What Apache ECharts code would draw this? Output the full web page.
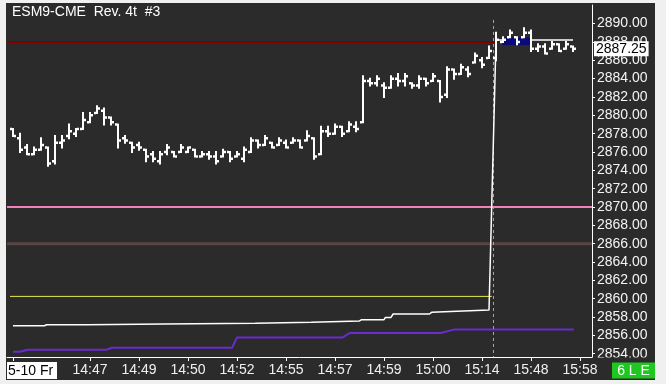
<!DOCTYPE html>
<html><head><meta charset="utf-8">
<script src="https://cdn.jsdelivr.net/npm/echarts@6/dist/echarts.min.js"></script>
<style>
html,body{margin:0;padding:0;background:#f0f0f0;width:666px;height:384px;overflow:hidden}
#bg{position:absolute;left:6px;top:3px;width:649px;height:377px;background:#2b2b2b}
#c{position:absolute;left:0;top:0;width:666px;height:384px}
</style></head>
<body><div id="bg"></div><div id="c"></div>
<script>
// ---- data ----
const title = 'ESM9-CME  Rev. 4t  #3';
const xTickIdx = [0, 11, 18, 25, 32, 39, 46, 53, 60, 67, 74, 81];
const xTickLabels = ['5-10 Fr','14:47','14:49','14:50','14:52','14:55','14:57','14:59','15:00','15:14','15:48','15:58'];
const yTicks = [2854,2856,2858,2860,2862,2864,2866,2868,2870,2872,2874,2876,2878,2880,2882,2884,2886,2888,2890];

const open = [
 2878.5,2877.5,2876.5,2875.75,2876.25,2876.5,2875.0,2877.0,2877.75,2878.0,
 2878.5,2879.25,2880.25,2880.5,2879.75,2879.0,2877.5,2877.0,2876.75,2876.25,
 2875.75,2875.0,2876.0,2876.0,2876.0,2876.0,2876.25,2875.5,2875.75,2875.5,
 2875.5,2876.0,2875.5,2875.25,2876.0,2877.25,2876.75,2877.0,2876.75,2877.0,
 2877.0,2877.25,2877.25,2877.5,2875.75,2878.25,2878.0,2878.75,2878.25,2878.75,
 2879.25,2883.75,2883.5,2883.25,2883.0,2884.0,2883.75,2883.5,2883.25,2884.0,
 2883.75,2883.75,2882.25,2885.0,2884.5,2885.0,2885.75,2886.0,2886.25,2886.25,
 2888.0,2888.5,2888.5,2888.5,2889.0,2887.25,2887.5,2887.25,2887.75,2887.25,
 2887.5];
const high = [
 2878.5,2878.0,2876.75,2876.5,2877.5,2876.5,2877.75,2877.75,2879.0,2878.5,
 2880.25,2880.25,2881.0,2880.75,2879.75,2879.0,2877.75,2877.0,2877.0,2876.25,
 2876.0,2876.0,2876.75,2876.0,2876.75,2876.5,2876.25,2876.0,2876.0,2876.0,
 2876.25,2876.0,2876.0,2876.5,2877.5,2877.25,2877.75,2877.0,2877.5,2877.25,
 2877.5,2877.25,2878.25,2877.5,2878.75,2878.75,2879.0,2878.75,2879.25,2879.25,
 2884.25,2884.0,2884.25,2883.5,2884.25,2884.5,2884.5,2883.5,2884.25,2884.0,
 2884.5,2883.75,2885.25,2885.0,2885.5,2885.25,2886.75,2886.25,2887.5,2889.0,
 2888.5,2889.25,2888.5,2889.5,2889.25,2887.75,2887.75,2888.0,2887.75,2888.0,
 2887.5];
const low = [
 2877.75,2876.0,2875.75,2875.75,2876.25,2874.5,2874.75,2876.5,2877.5,2877.75,
 2878.5,2879.25,2880.25,2879.0,2879.0,2876.5,2877.0,2876.0,2876.25,2875.0,
 2875.0,2874.75,2875.75,2875.5,2876.0,2876.0,2875.5,2875.5,2875.25,2874.75,
 2875.5,2875.0,2875.5,2875.0,2876.0,2876.5,2876.75,2876.5,2876.75,2876.5,
 2877.0,2876.5,2877.25,2875.25,2875.75,2877.75,2878.0,2877.75,2878.25,2878.25,
 2879.25,2883.25,2883.25,2882.0,2883.0,2883.25,2883.25,2883.0,2883.0,2883.25,
 2883.75,2881.5,2882.0,2884.0,2884.5,2884.25,2885.75,2885.25,2886.25,2886.0,
 2888.0,2888.5,2887.75,2888.5,2887.0,2887.0,2886.75,2887.25,2887.0,2887.25,
 2887.0];
const close = [
 2877.75,2876.25,2875.75,2876.25,2876.75,2874.75,2877.0,2877.25,2878.25,2878.5,
 2879.5,2880.0,2880.75,2879.75,2879.25,2877.25,2877.25,2876.5,2876.5,2875.5,
 2875.25,2875.75,2876.5,2875.5,2876.5,2876.5,2875.5,2875.75,2875.5,2875.0,
 2876.0,2875.25,2875.75,2876.25,2877.25,2876.75,2877.5,2876.5,2877.25,2876.5,
 2877.25,2876.5,2877.75,2875.5,2878.25,2878.0,2878.75,2878.0,2879.0,2878.5,
 2883.75,2883.5,2884.0,2883.0,2884.0,2883.75,2884.25,2883.25,2884.0,2883.5,
 2884.25,2882.0,2885.0,2884.5,2885.25,2884.5,2886.5,2885.5,2887.0,2888.25,
 2888.25,2889.0,2888.0,2889.0,2887.25,2887.5,2886.75,2887.75,2887.0,2887.75,
 2887.25];

// white indicator line (bar index, value)
const whiteIdx = [0, 4.5, 4.8, 10.6, 10.8, 21.6, 21.8, 34.6, 34.8, 42.6, 42.8, 49.5, 49.8, 53, 53.2, 54, 54.3, 59.5, 59.8, 68, 69, 80];
const whiteVal = [2857.05, 2857.05, 2857.16, 2857.16, 2857.24, 2857.24, 2857.31, 2857.31, 2857.42, 2857.42, 2857.57, 2857.57, 2857.71, 2857.71, 2857.96, 2857.96, 2858.33, 2858.33, 2858.51, 2858.77, 2888.2, 2888.2];
// purple indicator line
const purpleIdx = [0, 1, 2.1, 13.4, 14.1, 31.3, 32, 47.1, 48.1, 61.1, 63.1, 80.1];
const purpleVal = [2854.22, 2854.22, 2854.44, 2854.44, 2854.65, 2854.65, 2855.78, 2855.78, 2856.26, 2856.26, 2856.65, 2856.65];
// horizontal levels
const yellowLevel = 2860.25, yellowIdx = [-0.43, 68.4];
const redLevel = 2888.0, redIdx = [-0.86, 69];
const pinkLevel = 2870.0;
const brownLevel = 2866.0;
const sessionIdx = 68.64; // dashed vertical line
const zone = [69.9, 74.1, 2887.65, 2888.5]; // blue box: x1,x2,y1,y2
const lastPrice = close[close.length - 1];

// ---- chart ----
const X_MIN = -0.857, X_MAX = 82.714;
const Y_MIN = 2853.64, Y_MAX = 2892.03;
const FONT = '"Liberation Sans", Arial, sans-serif';
const chart = echarts.init(document.getElementById('c'), null, {renderer:'canvas'});

const bars = open.map((o, i) => [i, o, high[i], low[i], close[i]]);
const pair = (xs, ys) => xs.map((x, i) => [x, ys[i]]);

const option = {
  backgroundColor: 'transparent',
  animation: false,
  grid: {left: 7, right: 74, top: 5, bottom: 27},
  xAxis: {
    type: 'value', min: X_MIN, max: X_MAX,
    splitLine: {show: false},
    axisLine: {show: true, onZero: false, lineStyle: {color: '#ffffff', width: 1}},
    axisTick: {show: true, customValues: xTickIdx, length: 4, lineStyle: {color: '#ffffff'}},
    axisLabel: {
      customValues: xTickIdx, margin: 6, color: '#f0f0f0', fontSize: 14, fontFamily: FONT,
      formatter: v => { const k = xTickIdx.indexOf(v); return k > 0 ? xTickLabels[k] : ''; }
    }
  },
  yAxis: {
    type: 'value', position: 'right', min: Y_MIN, max: Y_MAX,
    splitLine: {show: false},
    axisLine: {show: true, onZero: false, lineStyle: {color: '#ffffff', width: 1}},
    axisTick: {show: true, customValues: yTicks, length: 3, lineStyle: {color: '#ffffff'}},
    axisLabel: {customValues: yTicks, margin: 5, color: '#f4f4f4', fontSize: 14, fontFamily: FONT,
      formatter: v => v.toFixed(2)}
  },
  series: [
    {type: 'line', z: 1, silent: true, showSymbol: false, data: [[X_MIN, pinkLevel], [X_MAX, pinkLevel]],
      lineStyle: {color: '#f080b8', width: 2}},
    {type: 'line', z: 1, silent: true, showSymbol: false, data: [[X_MIN, brownLevel], [X_MAX, brownLevel]],
      lineStyle: {color: '#5a4444', width: 3}},
    {type: 'line', z: 1, silent: true, showSymbol: false, data: [[redIdx[0], redLevel], [redIdx[1], redLevel]],
      lineStyle: {color: '#800000', width: 2}},
    {type: 'line', z: 2, silent: true, showSymbol: false, data: [[yellowIdx[0], yellowLevel], [yellowIdx[1], yellowLevel]],
      lineStyle: {color: '#e8e84a', width: 1}},
    {type: 'line', z: 2, silent: true, showSymbol: false, data: pair(purpleIdx, purpleVal),
      lineStyle: {color: '#6a2bd0', width: 2}},
    {type: 'line', z: 2, silent: true, showSymbol: false, data: [[sessionIdx, 2890.4], [sessionIdx, Y_MIN]],
      lineStyle: {color: '#a8a8a8', width: 1, type: [3, 3]}},
    {type: 'line', z: 2, silent: true, showSymbol: false, data: pair(whiteIdx, whiteVal),
      lineStyle: {color: '#ffffff', width: 1.5},
      markLine: {silent: true, symbol: 'none', animation: false,
        lineStyle: {color: 'rgba(0,0,0,0)', width: 0},
        label: {show: true, position: 'end', distance: 2, formatter: lastPrice.toFixed(2),
          backgroundColor: '#ffffff', color: '#000000', fontSize: 14, fontFamily: FONT, padding: [1, 2, 0, 2]},
        data: [{yAxis: lastPrice}]}},
    {type: 'custom', z: 3, silent: true, data: [zone],
      renderItem: (p, api) => {
        const a = api.coord([api.value(0), api.value(3)]);
        const b = api.coord([api.value(1), api.value(2)]);
        return {type: 'rect', shape: {x: a[0], y: a[1], width: b[0] - a[0], height: b[1] - a[1]},
          style: {fill: '#0a0a78'}};
      }},
    {type: 'custom', z: 4, silent: true, data: bars, encode: {x: 0, y: [1, 2, 3, 4]},
      renderItem: (p, api) => {
        const i = api.value(0);
        const o = api.coord([i, api.value(1)]);
        const h = api.coord([i, api.value(2)]);
        const l = api.coord([i, api.value(3)]);
        const c = api.coord([i, api.value(4)]);
        const x = Math.round(o[0]);
        const st = {fill: '#ffffff'};
        return {type: 'group', children: [
          {type: 'rect', shape: {x: x - 1, y: h[1] - 1, width: 2, height: Math.max(2, l[1] - h[1] + 2)}, style: st},
          {type: 'rect', shape: {x: x - 3, y: o[1] - 1.25, width: 2, height: 2.5}, style: st},
          {type: 'rect', shape: {x: x + 1, y: c[1] - 1.25, width: 2, height: 2.5}, style: st}
        ]};
      }}
  ],
  graphic: [
    {type: 'text', left: 12, top: 5, z: 100, style: {text: title, fill: '#ffffff', font: '14px ' + FONT}},
    {type: 'rect', z: 100, shape: {x: 593, y: 357.5, width: 62, height: 4.5}, style: {fill: '#2b2b2b'}},
    {type: 'group', left: 7, top: 362, z: 100, children: [
      {type: 'rect', shape: {x: 0, y: 0, width: 50, height: 17}, style: {fill: '#ffffff'}},
      {type: 'text', x: 1, y: 9, style: {text: xTickLabels[0], fill: '#000000', font: '14px ' + FONT, verticalAlign: 'middle'}}
    ]},
    {type: 'group', left: 612, top: 362.5, z: 100, children: [
      {type: 'rect', shape: {x: 0, y: 0, width: 43, height: 16}, style: {fill: '#1ec81e'}},
      {type: 'text', x: 21.5, y: 8.5, style: {text: '6 L E', fill: '#ffffff', font: '14px ' + FONT, align: 'center', verticalAlign: 'middle'}}
    ]}
  ]
};
chart.setOption(option);
</script>
</body></html>
